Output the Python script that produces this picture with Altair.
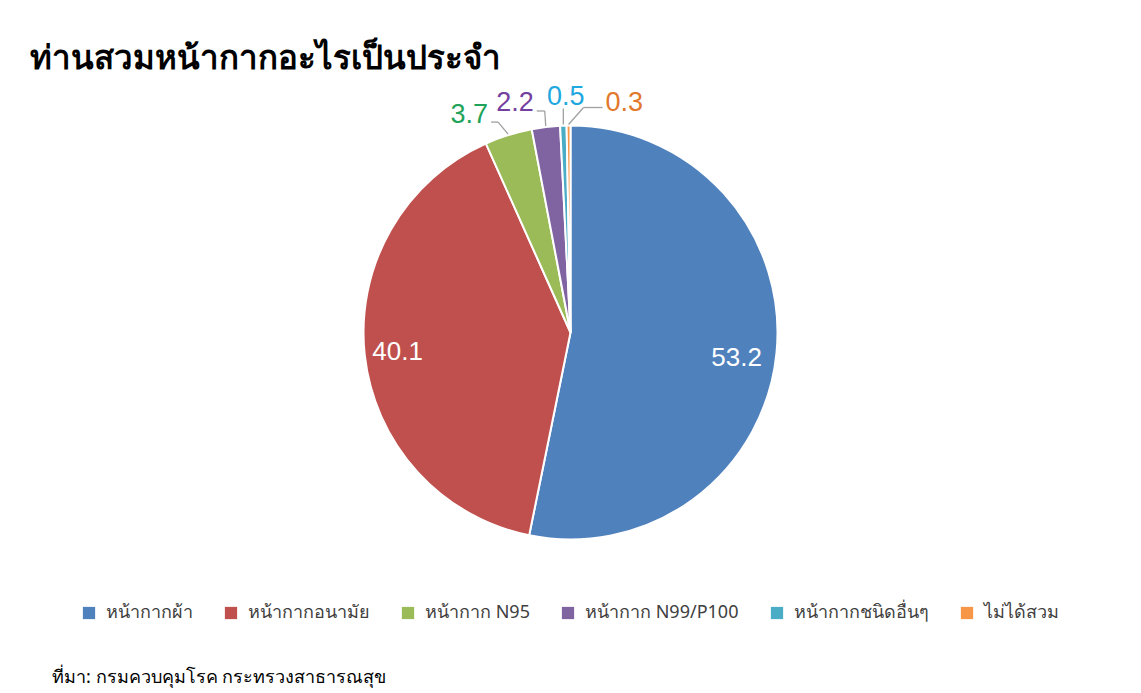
import altair as alt
import pandas as pd

# ---- data ----
categories = ["หน้ากากผ้า", "หน้ากากอนามัย", "หน้ากาก N95",
              "หน้ากาก N99/P100", "หน้ากากชนิดอื่นๆ", "ไม่ได้สวม"]
values = [53.2, 40.1, 3.7, 2.2, 0.5, 0.3]
title_text = "ท่านสวมหน้ากากอะไรเป็นประจำ"
source_text = "ที่มา: กรมควบคุมโรค กระทรวงสาธารณสุข"

# ---- style ----
slice_colors = ["#4F81BD", "#C0504D", "#9BBB59", "#8064A2", "#4BACC6", "#F79646"]
label_colors = ["#FFFFFF", "#FFFFFF", "#1FA25A", "#7440A0", "#1FA8E0", "#E2782A"]
NUM_FONT = "Liberation Sans"
THAI_FONT = "Noto Sans"

W, H = 1125, 615
PAD_TOP = 70
CX, CY, R = 562.5, 254.5, 207

df = pd.DataFrame({"category": categories, "value": values,
                   "order": list(range(len(values)))})

pie = alt.Chart(df).mark_arc(outerRadius=R, stroke="white", strokeWidth=2).encode(
    theta=alt.Theta("value:Q", stack=True),
    order=alt.Order("order:Q", sort="ascending"),
    color=alt.Color(
        "category:N",
        scale=alt.Scale(domain=categories, range=slice_colors),
        legend=alt.Legend(
            orient="none", legendX=72, legendY=526, direction="horizontal",
            title=None, symbolType="square", symbolSize=150, symbolStrokeWidth=0,
            labelFontSize=18, labelColor="#404040", labelFont=THAI_FONT,
            columnPadding=29, labelOffset=8,
        ),
    ),
    x=alt.value(CX),
    y=alt.value(CY),
)


def angled(i):
    return (
        alt.Chart(df)
        .transform_window(cum="sum(value)", sort=[alt.SortField("order", order="ascending")],
                          frame=[None, 0])
        .transform_joinaggregate(total="sum(value)")
        .transform_calculate(mid="2*PI*(datum.cum - datum.value/2)/datum.total")
        .transform_filter(alt.datum.order == i)
    )


def inside_label(i, r, dx, dy):
    return angled(i).transform_calculate(
        tx=f"{CX} + {r}*sin(datum.mid) + {dx}",
        ty=f"{CY} - {r}*cos(datum.mid) + {dy}",
    ).mark_text(fontSize=26, font=NUM_FONT, color=label_colors[i],
                align="center", baseline="middle").encode(
        x=alt.X("tx:Q", scale=None, axis=None),
        y=alt.Y("ty:Q", scale=None, axis=None),
        text=alt.Text("value:Q", format=".1f"),
    )


def outside_label(i, ebx, eby, hdx, tdx, tdy, align):
    b = angled(i).transform_calculate(
        ex=f"{CX} + {R + 1}*sin(datum.mid)",
        ey=f"{CY} - {R + 1}*cos(datum.mid)",
    ).transform_calculate(
        bx=f"datum.ex + {ebx}", by=f"datum.ey + {eby}",
    ).transform_calculate(
        hx=f"datum.bx + {hdx}", tx=f"datum.bx + {hdx} + {tdx}", ty=f"datum.by + {tdy}",
    )
    seg1 = b.mark_rule(color="#A0A0A0", strokeWidth=1.3).encode(
        x=alt.X("ex:Q", scale=None, axis=None), y=alt.Y("ey:Q", scale=None, axis=None),
        x2="bx:Q", y2="by:Q",
    )
    seg2 = b.mark_rule(color="#A0A0A0", strokeWidth=1.3).encode(
        x=alt.X("bx:Q", scale=None, axis=None), y=alt.Y("by:Q", scale=None, axis=None),
        x2="hx:Q", y2="by:Q",
    )
    txt = b.mark_text(fontSize=27, font=NUM_FONT, color=label_colors[i],
                      align=align, baseline="alphabetic").encode(
        x=alt.X("tx:Q", scale=None, axis=None),
        y=alt.Y("ty:Q", scale=None, axis=None),
        text=alt.Text("value:Q", format=".1f"),
    )
    return [seg1, seg2, txt]


layers = [pie,
          inside_label(0, 167, 0, 9),
          inside_label(1, 174, 0, 0)]
layers += outside_label(2, -10, -12, -7, -3, 1, "right")
layers += outside_label(3, -1, -15, -8, -3, 0, "right")
layers += outside_label(4, 0, -16, 0, 2.5, -4, "center")
layers += outside_label(5, 15, -17, 19, 3, 3, "left")

source = alt.Chart(pd.DataFrame({"t": [source_text]})).mark_text(
    align="left", baseline="alphabetic", fontSize=18, font=THAI_FONT, color="black"
).encode(text="t:N", x=alt.value(44), y=alt.value(605))
layers.append(source)

chart = alt.layer(*layers).properties(
    width=W, height=H,
    autosize=alt.AutoSizeParams(type="none"),
    padding={"left": 0, "top": PAD_TOP, "right": 0, "bottom": 0},
    title=alt.Title(title_text, anchor="start", fontSize=33, fontWeight="bold",
                    font=THAI_FONT, color="black", dx=22, dy=32, offset=8,
                    baseline="alphabetic"),
).configure_view(stroke=None)

chart.save("out.html", embed_options={"renderer": "svg", "actions": False})
